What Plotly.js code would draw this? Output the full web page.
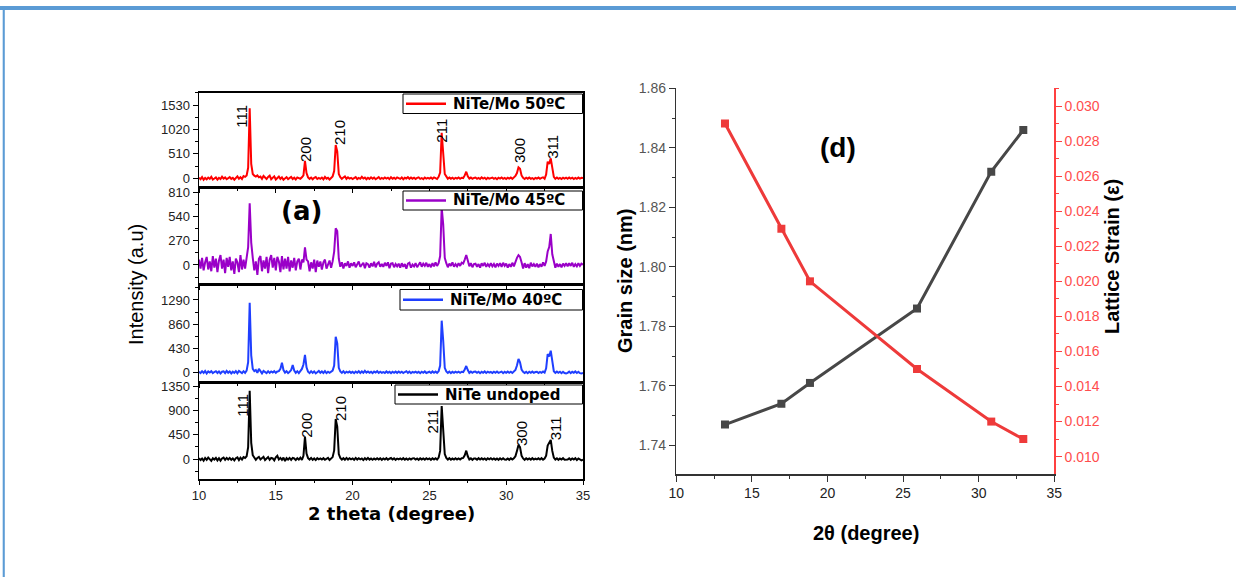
<!DOCTYPE html>
<html>
<head>
<meta charset="utf-8">
<script src="https://cdn.plot.ly/plotly-3.0.1.min.js"></script>
<style>html,body{margin:0;padding:0;background:#fff;}#chart{width:1236px;height:577px;}</style>
</head>
<body>
<div id="chart"></div>
<script>
// ---------- DATA ----------
// 2-theta scan grid (degrees), 10.0 .. 35.0
const twoTheta = [
10.0,10.1,10.2,10.3,10.4,10.5,10.6,10.7,10.8,10.9,
11.0,11.1,11.2,11.3,11.4,11.5,11.6,11.7,11.8,11.9,
12.0,12.1,12.2,12.3,12.4,12.5,12.6,12.7,12.8,12.9,
13.0,13.1,13.2,13.3,13.4,13.5,13.6,13.7,13.8,13.9,
14.0,14.1,14.2,14.3,14.4,14.5,14.6,14.7,14.8,14.9,
15.0,15.1,15.2,15.3,15.4,15.5,15.6,15.7,15.8,15.9,
16.0,16.1,16.2,16.3,16.4,16.5,16.6,16.7,16.8,16.9,
17.0,17.1,17.2,17.3,17.4,17.5,17.6,17.7,17.8,17.9,
18.0,18.1,18.2,18.3,18.4,18.5,18.6,18.7,18.8,18.9,
19.0,19.1,19.2,19.3,19.4,19.5,19.6,19.7,19.8,19.9,
20.0,20.1,20.2,20.3,20.4,20.5,20.6,20.7,20.8,20.9,
21.0,21.1,21.2,21.3,21.4,21.5,21.6,21.7,21.8,21.9,
22.0,22.1,22.2,22.3,22.4,22.5,22.6,22.7,22.8,22.9,
23.0,23.1,23.2,23.3,23.4,23.5,23.6,23.7,23.8,23.9,
24.0,24.1,24.2,24.3,24.4,24.5,24.6,24.7,24.8,24.9,
25.0,25.1,25.2,25.3,25.4,25.5,25.6,25.7,25.8,25.9,
26.0,26.1,26.2,26.3,26.4,26.5,26.6,26.7,26.8,26.9,
27.0,27.1,27.2,27.3,27.4,27.5,27.6,27.7,27.8,27.9,
28.0,28.1,28.2,28.3,28.4,28.5,28.6,28.7,28.8,28.9,
29.0,29.1,29.2,29.3,29.4,29.5,29.6,29.7,29.8,29.9,
30.0,30.1,30.2,30.3,30.4,30.5,30.6,30.7,30.8,30.9,
31.0,31.1,31.2,31.3,31.4,31.5,31.6,31.7,31.8,31.9,
32.0,32.1,32.2,32.3,32.4,32.5,32.6,32.7,32.8,32.9,
33.0,33.1,33.2,33.3,33.4,33.5,33.6,33.7,33.8,33.9,
34.0,34.1,34.2,34.3,34.4,34.5,34.6,34.7,34.8,34.9,
35.0];

const intensity50C = [
12,-18,25,-30,8,-22,15,-10,30,-25,
-5,20,-28,10,-15,32,-8,18,-20,5,
25,-12,8,-30,18,40,-10,22,-15,45,
30,60,220,1463,300,90,55,35,60,20,
35,-10,48,20,-15,30,55,-20,10,40,
-25,15,35,-12,20,-30,10,25,-18,8,
30,-15,12,-25,18,5,-10,20,60,362,
110,20,-12,15,-20,10,25,-15,8,-10,
15,-20,30,-8,12,-25,18,40,150,696,
560,90,25,-10,15,40,-12,20,-5,10,
-15,12,25,-18,8,-10,30,-5,15,-20,
10,-12,20,-8,15,-20,5,25,-15,8,
-10,18,-5,12,-18,22,-8,10,-15,20,
5,-12,18,-20,10,-5,25,-10,15,-8,
12,-15,8,20,-12,5,-18,15,-5,10,
-8,15,-12,20,5,-15,30,120,953,600,
90,40,-10,15,-8,12,-15,10,-5,18,
-10,12,5,60,138,40,-8,15,-12,8,
15,-10,8,-15,20,-5,12,-18,10,-8,
5,15,-12,8,-20,12,-5,18,-10,8,
-15,10,-8,15,-12,20,50,110,230,200,
60,10,-15,12,-8,15,-10,5,-18,10,
-5,15,-12,8,20,-10,80,347,300,418,
180,30,-10,15,-12,8,-15,10,-8,12,
-10,15,-5,12,-15,8,-12,15,-8,10,
5];

const intensity45C = [
60,-40,80,-60,30,90,-50,40,-70,100,
-30,70,-80,50,110,-40,60,-90,80,-20,
90,-60,40,-100,70,30,-80,110,-50,60,
-40,90,200,688,250,80,-60,40,-110,70,
100,-70,50,-40,90,-90,60,110,-30,80,
-60,90,40,-80,100,-50,70,-40,90,-70,
50,-30,80,-60,40,70,-50,60,30,197,
60,40,-70,30,-40,60,-80,50,-20,40,
-50,30,60,-40,20,50,-30,40,150,409,
380,70,-20,30,-40,20,-10,40,-30,20,
-10,30,-25,15,40,-20,10,25,-35,20,
10,-30,20,-15,35,-25,15,30,-20,10,
-20,25,-10,30,-35,15,20,-25,10,-15,
15,-30,20,-20,10,-40,15,25,-30,5,
-15,20,-25,10,30,-20,15,-10,25,-20,
10,-25,20,-15,30,-10,20,100,640,450,
80,20,-25,15,-10,30,-20,10,-15,20,
-10,25,15,60,111,50,-15,20,-25,10,
15,-20,10,-30,20,-10,25,-20,10,-15,
20,-15,10,-25,15,-10,20,-20,25,-10,
15,-30,10,-20,25,-15,40,80,110,90,
30,-40,20,-30,10,-35,25,-15,10,-20,
15,-25,10,-20,30,-10,40,150,200,346,
120,20,-30,15,-20,10,-25,15,-10,20,
-15,20,-10,25,-20,10,-15,20,-10,15,
5];

const intensity40C = [
10,-15,20,-10,25,-20,15,-5,20,-15,
5,20,-12,15,-20,10,18,-15,25,-8,
15,-20,10,-12,20,-18,25,5,-15,20,
-10,30,180,1242,300,60,20,40,-10,60,
15,-20,25,10,-15,20,-10,15,-5,20,
-10,15,20,60,171,40,-5,20,-15,10,
40,130,30,-10,20,-15,15,60,140,309,
90,10,-15,20,-10,15,-20,10,25,-10,
15,-12,20,-15,10,-8,20,30,120,635,
520,80,15,-10,20,-15,10,-5,15,-10,
10,-15,12,-8,20,-12,15,-10,25,-5,
15,-10,8,-15,12,-5,20,-12,10,-8,
5,-12,15,-10,8,-15,10,-8,12,-10,
15,-8,10,-12,5,20,-10,12,-15,8,
-5,12,-10,8,-15,10,-8,15,-12,5,
10,-12,15,-8,12,-10,20,120,921,560,
80,15,-10,12,-15,8,-10,12,-5,10,
-8,10,5,50,112,40,-10,12,-8,10,
12,-8,10,-15,8,-10,15,-12,10,-5,
8,-12,10,-8,15,-10,5,12,-15,8,
-10,12,-8,10,-12,15,40,120,237,180,
50,10,-12,8,-15,10,-8,12,-10,5,
10,-12,8,-10,15,-5,70,326,280,385,
150,20,-10,12,-8,10,-15,8,-12,-20,
-10,12,-15,8,-10,15,-12,10,-15,-20,
-10];

const intensityUndoped = [
15,-20,10,-30,20,-15,25,-10,-35,15,
-10,20,-25,15,-30,10,25,-15,20,-10,
20,-15,10,-25,15,30,-20,25,-10,35,
20,50,220,1265,300,70,30,-15,20,40,
-10,25,40,-20,15,35,-15,20,10,-25,
30,60,-10,20,-15,25,-40,15,-10,20,
-15,20,10,-20,15,-10,25,-15,60,413,
100,15,-10,20,-15,10,-20,15,-5,10,
-10,15,-15,10,20,-20,15,35,160,741,
600,90,20,-10,15,-15,20,-10,15,-5,
10,-15,20,-10,15,-5,10,-20,15,-10,
20,-12,10,-15,8,-10,15,-8,12,-15,
10,-8,15,-12,5,18,-10,12,-15,8,
-5,12,-10,15,-12,8,-15,10,-8,12,
15,-10,8,-15,12,-8,10,-12,15,-5,
10,-15,12,-8,15,-10,25,150,981,550,
90,20,-10,15,-12,8,-10,15,-8,10,
-10,15,20,70,154,50,-10,12,-15,10,
8,-12,15,-10,12,-8,10,-15,12,-5,
15,-8,10,-12,8,-15,12,-10,15,-8,
-12,10,-15,12,-8,15,50,150,259,220,
60,10,-15,12,-8,10,-12,15,-10,8,
-8,12,-10,15,-12,8,60,250,300,352,
150,25,-10,12,-15,8,-10,15,-12,-15,
-10,12,-15,10,-8,15,-20,10,-15,-25,
-10];

const seriesNames = ['NiTe/Mo 50ºC', 'NiTe/Mo 45ºC', 'NiTe/Mo 40ºC', 'NiTe undoped'];

// Miller-index labels (2θ, intensity where the label sits)
const hklLabels = ['111', '200', '210', '211', '300', '311'];
const hklTopX = [12.80, 16.90, 19.18, 25.80, 30.83, 33.05];
const hklTopY = [1287, 612, 947, 989, 591, 660];
const hklBotX = [12.78, 17.01, 19.18, 25.23, 31.01, 33.18];
const hklBotY = [1000, 630, 926, 691, 476, 569];

// Panel tick labels
const ticks50 = [0, 510, 1020, 1530];
const ticks45 = [0, 270, 540, 810];
const ticks40 = [0, 430, 860, 1290];
const ticksUnd = [0, 450, 900, 1350];

// Panel (d): grain size and lattice strain vs 2θ
const peak2Theta = [13.22, 16.95, 18.84, 25.92, 30.83, 32.95];
const grainSize = [1.747, 1.754, 1.761, 1.786, 1.832, 1.846];
const latticeStrain = [0.029, 0.023, 0.020, 0.015, 0.012, 0.011];

// ---------- LAYOUT HELPERS ----------
const W = 1236, H = 577;
const X = px => px / W;
const Y = py => 1 - py / H;

const ARIAL = 'Liberation Sans, Arial, sans-serif';
const WIDE = 'DejaVu Sans, Verdana, sans-serif';

const colors = ['#ff0000', '#9a00c8', '#1f3fff', '#000000'];
const panelY = [[92.7, 187], [187, 284], [284, 382], [382, 479.3]];
const ranges = [[-182, 1789], [-212, 870], [-173, 1575], [-376, 1426]];
const tickSets = [ticks50, ticks45, ticks40, ticksUnd];
const series = [intensity50C, intensity45C, intensity40C, intensityUndoped];
// legend boxes (pixel): left edge, top, bottom
const legBox = [[403, 94, 113.5], [403, 191, 210], [400, 289.5, 310], [395, 385, 404]];

const traces = [];
const layout = {
  width: W, height: H,
  margin: {l: 0, r: 0, t: 0, b: 0, pad: 0},
  paper_bgcolor: '#ffffff', plot_bgcolor: 'rgba(0,0,0,0)',
  showlegend: false,
  font: {family: ARIAL, color: '#000'},
  annotations: [], shapes: []
};
const A = layout.annotations;
const S = layout.shapes;

for (let i = 0; i < 4; i++) {
  const n = i + 1;
  const xa = n === 1 ? 'x' : 'x' + n;
  const ya = n === 1 ? 'y' : 'y' + n;
  traces.push({
    type: 'scatter', mode: 'lines', x: twoTheta, y: series[i],
    xaxis: xa, yaxis: ya, name: seriesNames[i],
    line: {color: colors[i], width: 2}, hoverinfo: 'skip'
  });
  const dom = [Y(panelY[i][1]), Y(panelY[i][0])];
  const tk = tickSets[i];
  layout[n === 1 ? 'xaxis' : 'xaxis' + n] = {
    domain: [X(199), X(583)], anchor: ya, range: [10, 35],
    tickmode: 'linear', tick0: 10, dtick: 5,
    ticks: 'outside', ticklen: 4, tickwidth: 1, tickcolor: '#000',
    minor: {ticks: 'outside', ticklen: 2, dtick: 2.5, tick0: 10, tickcolor: '#000', showgrid: false},
    showticklabels: n === 4,
    tickfont: {family: ARIAL, size: 13, color: '#222'},
    showline: true, linecolor: '#000', linewidth: 1.5, mirror: true,
    showgrid: false, zeroline: false, fixedrange: true, automargin: false
  };
  layout[n === 1 ? 'yaxis' : 'yaxis' + n] = {
    domain: dom, anchor: xa, range: ranges[i],
    tickmode: 'array', tickvals: tk, ticktext: tk.map(String),
    ticks: 'outside', ticklen: 5, tickwidth: 1, tickcolor: '#000',
    minor: {ticks: 'outside', ticklen: 3, tickvals: [-tk[1] / 2, tk[1] / 2, tk[1] * 1.5, tk[2] * 1.25, tk[3] * 1.1667].filter(v => v > ranges[i][0] && v < ranges[i][1]), tickcolor: '#000', showgrid: false},
    tickfont: {family: ARIAL, size: 13, color: '#222'},
    showline: true, linecolor: '#000', linewidth: 1.5, mirror: true,
    showgrid: false, zeroline: false, fixedrange: true, automargin: false
  };
  // legend box for this panel
  const b = legBox[i];
  const cy = (b[1] + b[2]) / 2;
  S.push({type: 'rect', xref: 'paper', yref: 'paper', x0: X(b[0]), x1: X(582.5), y0: Y(b[2]), y1: Y(b[1]),
    line: {color: '#000', width: 1}, fillcolor: '#ffffff', layer: 'above'});
  S.push({type: 'line', xref: 'paper', yref: 'paper', x0: X(b[0] + 3), x1: X(b[0] + 43), y0: Y(cy), y1: Y(cy),
    line: {color: colors[i], width: 2.5}, layer: 'above'});
  A.push({xref: 'paper', yref: 'paper', x: X(b[0] + 48), y: Y(cy), xanchor: 'left', yanchor: 'middle',
    text: '<b>' + seriesNames[i] + '</b>', showarrow: false,
    font: {family: WIDE, size: 15, color: '#000'}});
}

// Miller index labels (top and bottom panels)
for (let k = 0; k < hklLabels.length; k++) {
  A.push({xref: 'x', yref: 'y', x: hklTopX[k], y: hklTopY[k], text: hklLabels[k],
    xanchor: 'center', yanchor: 'middle',
    showarrow: false, textangle: -90, font: {family: ARIAL, size: 15, color: '#000'}});
  A.push({xref: 'x4', yref: 'y4', x: hklBotX[k], y: hklBotY[k], text: hklLabels[k],
    xanchor: 'center', yanchor: 'middle',
    showarrow: false, textangle: -90, font: {family: ARIAL, size: 15, color: '#000'}});
}

// Panel (d) traces
traces.push({
  type: 'scatter', mode: 'lines+markers', x: peak2Theta, y: grainSize,
  xaxis: 'x5', yaxis: 'y5', name: 'Grain size', showlegend: false,
  line: {color: '#474747', width: 3}, marker: {symbol: 'square', size: 8, color: '#474747'}, hoverinfo: 'skip'
});
traces.push({
  type: 'scatter', mode: 'lines+markers', x: peak2Theta, y: latticeStrain,
  xaxis: 'x5', yaxis: 'y6', name: 'Lattice strain', showlegend: false,
  line: {color: '#ee3a3a', width: 3}, marker: {symbol: 'square', size: 8, color: '#ee3a3a'}, hoverinfo: 'skip'
});

layout.xaxis5 = {
  domain: [X(676.3), X(1054.3)], anchor: 'y5', range: [10, 35],
  tickmode: 'linear', tick0: 10, dtick: 5,
  ticks: 'outside', ticklen: 6, tickwidth: 1, tickcolor: '#333',
  minor: {ticks: 'outside', ticklen: 3, dtick: 2.5, tick0: 10, tickcolor: '#333', showgrid: false},
  tickfont: {family: ARIAL, size: 14, color: '#222'},
  showline: true, linecolor: '#333', linewidth: 1.5,
  showgrid: false, zeroline: false, fixedrange: true, automargin: false
};
layout.yaxis5 = {
  domain: [Y(474), Y(88.3)], anchor: 'x5', range: [1.7304, 1.86],
  tickmode: 'linear', tick0: 1.74, dtick: 0.02, tickformat: '.2f',
  ticks: 'outside', ticklen: 6, tickwidth: 1, tickcolor: '#333',
  minor: {ticks: 'outside', ticklen: 3, dtick: 0.01, tick0: 1.74, tickcolor: '#333', showgrid: false},
  tickfont: {family: ARIAL, size: 14, color: '#555'},
  showline: true, linecolor: '#333', linewidth: 1.5,
  showgrid: false, zeroline: false, fixedrange: true, automargin: false
};
layout.yaxis6 = {
  overlaying: 'y5', side: 'right', anchor: 'x5', range: [0.00901, 0.03101],
  tickmode: 'linear', tick0: 0.010, dtick: 0.002, tickformat: '.3f',
  ticks: 'outside', ticklen: 6, tickwidth: 1, tickcolor: '#ff4040',
  minor: {ticks: 'outside', ticklen: 3, dtick: 0.001, tick0: 0.010, tickcolor: '#ff4040', showgrid: false},
  tickfont: {family: ARIAL, size: 14, color: '#ff4d4d'},
  showline: true, linecolor: '#ff4040', linewidth: 1.5,
  showgrid: false, zeroline: false, fixedrange: true, automargin: false
};

// Text annotations (titles & panel letters)
function label(px, py, text, size, angle, fam) {
  A.push({xref: 'paper', yref: 'paper', x: X(px), y: Y(py), text: text, textangle: angle || 0,
    xanchor: 'center', yanchor: 'middle', showarrow: false,
    font: {family: fam || ARIAL, size: size, color: '#000'}});
}
label(136, 285, 'Intensity (a.u)', 20, -90);
label(391, 513, '<b>2 theta (degree)</b>', 18, 0, WIDE);
label(301, 211, '<b>(a)</b>', 26, 0, WIDE);
label(625, 281, '<b>Grain size (nm)</b>', 20, -90);
label(1112, 257, '<b>Lattice Strain (ε)</b>', 20, -90);
label(866, 533, '<b>2θ (degree)</b>', 20);
label(838, 147, '<b>(d)</b>', 28);

// Blue page frame
S.push({type: 'rect', xref: 'paper', yref: 'paper', x0: 0, x1: 1, y0: Y(10), y1: Y(6),
  line: {width: 0}, fillcolor: '#5b9bd5', layer: 'above'});
S.push({type: 'rect', xref: 'paper', yref: 'paper', x0: X(2.7), x1: X(4.8), y0: 0, y1: Y(6),
  line: {width: 0}, fillcolor: '#5b9bd5', layer: 'above'});

Plotly.newPlot('chart', traces, layout, {staticPlot: true, displayModeBar: false});
</script>
</body>
</html>
